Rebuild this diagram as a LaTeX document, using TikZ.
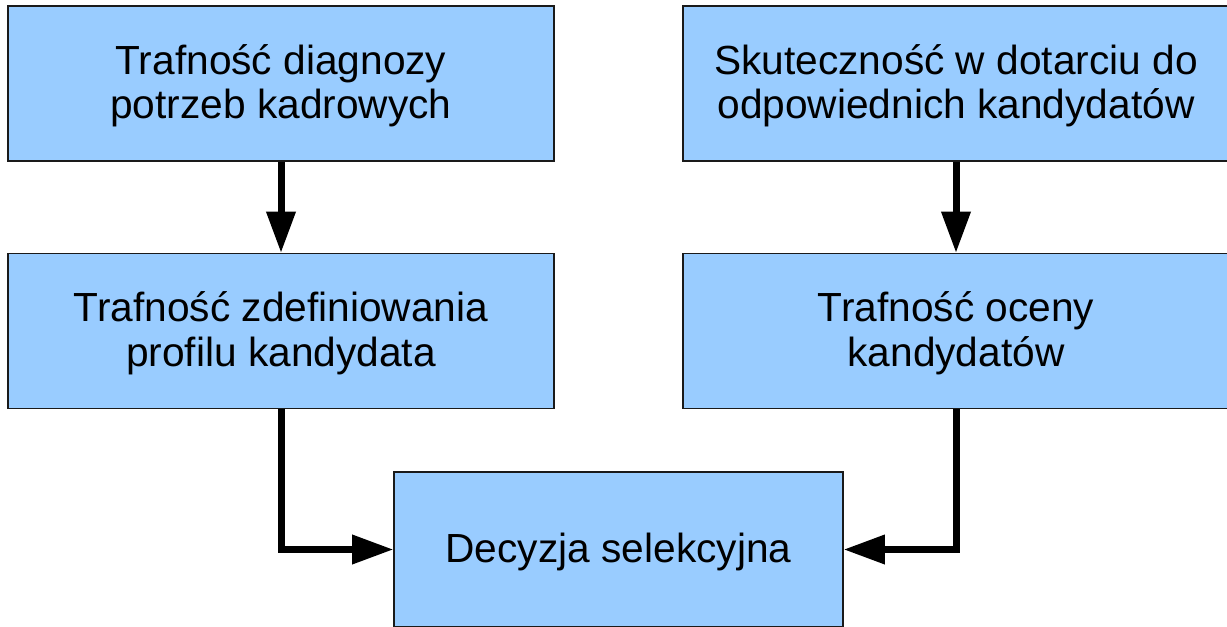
\documentclass[tikz,border=0pt]{standalone}
\usepackage{fontspec}
\setmainfont{Liberation Sans}
\usetikzlibrary{arrows.meta}
\definecolor{boxfill}{HTML}{99CCFF}
\definecolor{boxline}{HTML}{1A1A1A}
\newcommand{\boxtxt}[1]{\raisebox{-3pt}[\height][\depth]{\begin{tabular}{@{}c@{}}#1\end{tabular}}}
\begin{document}
\begin{tikzpicture}[x=0.75pt,y=-0.75pt,
  box/.style={draw=boxline,line width=0.9pt,fill=boxfill,
    minimum width=409.5pt,minimum height=116.25pt,inner sep=0pt,
    font=\fontsize{30.5pt}{33.5pt}\selectfont},
  conn/.style={line width=5.25pt,line join=miter,
    -{Triangle[length=31pt,width=21pt]}}]
\useasboundingbox (0,0) rectangle (1227,627);
\fill[white] (0,0) rectangle (1227,627);
\node[box] (a1) at (281,83.5) {\boxtxt{Trafność diagnozy\\potrzeb kadrowych}};
\node[box] (b1) at (956,83.5) {\boxtxt{Skuteczność w dotarciu do\\odpowiednich kandydatów}};
\node[box] (a2) at (281,331) {\boxtxt{Trafność zdefiniowania\\profilu kandydata}};
\node[box] (b2) at (956,331) {\boxtxt{Trafność oceny\\kandydatów}};
\node[box,minimum width=336.75pt] (c) at (618.5,549.5) {\boxtxt{Decyzja selekcyjna}};
\draw[conn] (a1) -- (a2);
\draw[conn] (b1) -- (b2);
\draw[conn] (a2.south) |- (c.west);
\draw[conn] (b2.south) |- (c.east);
\end{tikzpicture}
\end{document}
